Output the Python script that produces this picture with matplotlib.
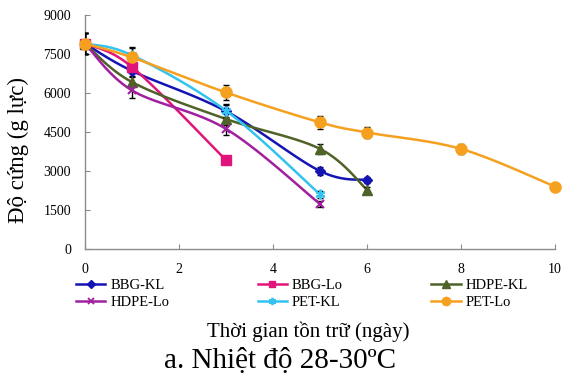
import numpy as np
import matplotlib
matplotlib.use('Agg')
import matplotlib.pyplot as plt

plt.rcParams['font.family'] = ['Liberation Serif', 'DejaVu Serif']

# ngay ton tru va do cung (g luc)
days_bbg_kl = [0, 1, 3, 5, 6]
bbg_kl = [7900, 6850, 5300, 3000, 2650]
err_bbg_kl = [400, 200, 250, 150, 120]

days_bbg_lo = [0, 1, 3]
bbg_lo = [7900, 7000, 3420]
err_bbg_lo = [400, 200, 150]

days_hdpe_kl = [0, 1, 3, 5, 6]
hdpe_kl = [7900, 6420, 5000, 3850, 2280]
err_hdpe_kl = [400, 200, 250, 200, 100]

days_hdpe_lo = [0, 1, 3, 5]
hdpe_lo = [7900, 6100, 4620, 1730]
err_hdpe_lo = [400, 300, 250, 100]

days_pet_kl = [0, 1, 3, 5]
pet_kl = [7900, 7450, 5320, 2100]
err_pet_kl = [400, 300, 250, 120]

days_pet_lo = [0, 1, 3, 5, 6, 8, 10]
pet_lo = [7900, 7370, 6020, 4870, 4480, 3850, 2400]
err_pet_lo = [400, 350, 300, 250, 220, 200, 60]

series = [
    ('BBG-KL', days_bbg_kl, bbg_kl, err_bbg_kl, '#1414B4', 'D', 5),
    ('BBG-Lo', days_bbg_lo, bbg_lo, err_bbg_lo, '#E0147A', 's', 6.5),
    ('HDPE-KL', days_hdpe_kl, hdpe_kl, err_hdpe_kl, '#4F6228', '^', 7),
    ('HDPE-Lo', days_hdpe_lo, hdpe_lo, err_hdpe_lo, '#A020A0', 'x', 6),
    ('PET-KL', days_pet_kl, pet_kl, err_pet_kl, '#33C3EE', (6, 2, 0), 7),
    ('PET-Lo', days_pet_lo, pet_lo, err_pet_lo, '#F5A01E', 'o', 8),
]


def smooth(x, y, n=30):
    # Excel-like smoothed line (bezier through points)
    x = np.asarray(x, float)
    y = np.asarray(y, float)
    if len(x) < 3:
        return x, y
    px = np.concatenate([[x[0]], x, [x[-1]]])
    py = np.concatenate([[y[0]], y, [y[-1]]])
    xs, ys = [], []
    t = np.linspace(0, 1, n)
    for i in range(1, len(px) - 2):
        p0 = np.array([px[i], py[i]])
        p3 = np.array([px[i + 1], py[i + 1]])
        c1 = p0 + (np.array([px[i + 1], py[i + 1]]) - np.array([px[i - 1], py[i - 1]])) / 6.0
        c2 = p3 - (np.array([px[i + 2], py[i + 2]]) - np.array([px[i], py[i]])) / 6.0
        b = ((1 - t) ** 3)[:, None] * p0 + (3 * (1 - t) ** 2 * t)[:, None] * c1 \
            + (3 * (1 - t) * t ** 2)[:, None] * c2 + (t ** 3)[:, None] * p3
        xs.extend(b[:, 0])
        ys.extend(b[:, 1])
    return np.array(xs), np.array(ys)


fig, ax = plt.subplots(figsize=(5.63, 3.73), dpi=100)
fig.subplots_adjust(left=85/563, right=555/563, top=1-15/373, bottom=1-249/373)

handles = {}
for name, dx, dy, de, col, mk, ms in series:
    sx, sy = smooth(dx, dy)
    ax.plot(sx, sy, color=col, lw=1.8, zorder=2)
    ax.errorbar(dx, dy, yerr=de, fmt='none', ecolor='black', elinewidth=1,
                capsize=2.5, capthick=1, zorder=3)
    ax.plot(dx, dy, ls='none', marker=mk, ms=ms, color=col, mec=col,
            mew=1.5 if mk in ('x', (6, 2, 0)) else 1, zorder=4, clip_on=False)
    h, = ax.plot([], [], color=col, lw=1.8, marker=mk, ms=ms*0.75, mec=col,
                 mew=1.3 if mk in ('x', (6, 2, 0)) else 1)
    handles[name] = h

ax.set_xlim(0, 10)
ax.set_ylim(0, 9000)
ax.set_xticks([0, 2, 4, 6, 8, 10])
ax.set_yticks(np.arange(0, 9001, 1500))
for s in ['top', 'right']:
    ax.spines[s].set_visible(False)
for s in ['left', 'bottom']:
    ax.spines[s].set_color('#8C8C8C')
    ax.spines[s].set_linewidth(1)
ax.tick_params(direction='in', length=3.5, color='#8C8C8C', labelsize=10)
ax.tick_params(axis='x', pad=10)
ax.tick_params(axis='y', pad=10)

order = ['BBG-KL', 'HDPE-Lo', 'BBG-Lo', 'PET-KL', 'HDPE-KL', 'PET-Lo']
fig.legend([handles[k] for k in order], order, ncol=3, mode='expand',
           loc='lower left', bbox_to_anchor=(76/563, 1-309/373, 452/563, 32/373),
           frameon=False, fontsize=10.5, handlelength=2.0, handletextpad=0.35,
           borderpad=0, borderaxespad=0, labelspacing=0.25)

fig.text(18/563, 1-150/373, 'Độ cứng (g lực)', rotation=90, fontsize=16.5,
         ha='center', va='center')
fig.text(308/563, 1-337/373, 'Thời gian tồn trữ (ngày)', fontsize=15,
         ha='center', va='baseline')
fig.text(280/563, 1-368/373, 'a. Nhiệt độ 28-30ºC', fontsize=21,
         ha='center', va='baseline')

fig.savefig('out.png', dpi=100)
